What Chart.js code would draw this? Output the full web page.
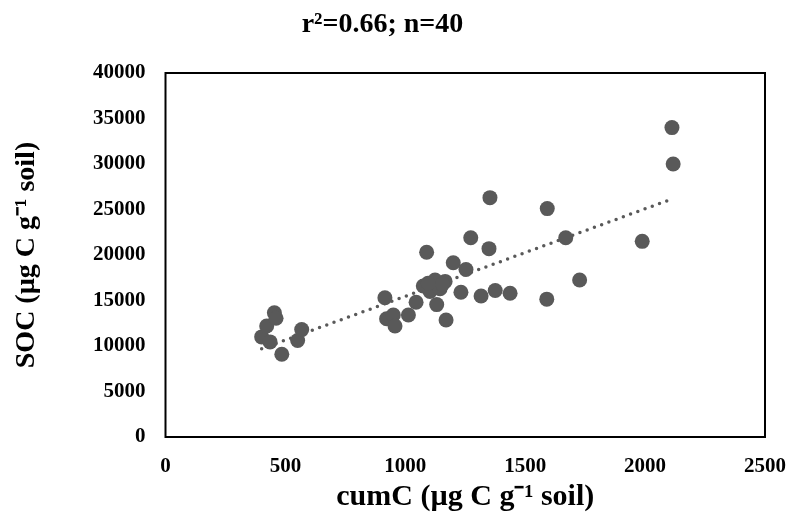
<!DOCTYPE html>
<html>
<head>
<meta charset="utf-8">
<title>SOC vs cumC</title>
<script src="https://cdn.jsdelivr.net/npm/chart.js@4.4.1/dist/chart.umd.min.js"></script>
<style>
    html, body { margin: 0; padding: 0; background: #ffffff; }
    #wrap { width: 791px; height: 521px; }
</style>
</head>
<body>
<div id="wrap"><canvas id="socChart" width="791" height="521"></canvas></div>
<script>
// cumulative C (x) and SOC (y) for each sample
const cumC = [
    401, 422, 436, 454, 461, 485, 551, 568,
    915, 922, 950, 957, 1013, 1045, 1075, 1089, 1103, 1124, 1131, 1145,
    1166, 1170, 1200, 1232, 1253, 1273, 1316, 1349, 1353, 1375, 1437,
    1590, 1592, 1669, 1727, 1988, 2112, 2117, 1095, 1155
];
const soc = [
    11000, 12200, 10450, 13650, 13050, 9100, 10600, 11800,
    15300, 13000, 13400, 12200, 13400, 14800, 16600, 20300, 16000, 17250, 14550, 16300,
    17100, 12850, 19150, 15900, 18400, 21900, 15500, 20700, 26300, 16100, 15800,
    15150, 25100, 21900, 17250, 21500, 34000, 30000, 16900, 16800
];

// end points of the dotted linear trend line
const trendX = [401, 2117];
const trendY = [9700, 26200];

const xTicks = [0, 500, 1000, 1500, 2000, 2500];
const yTicks = [0, 5000, 10000, 15000, 20000, 25000, 30000, 35000, 40000];

const FONT = '"Liberation Serif", "Times New Roman", serif';
const MARK = '#595959';

/**
 * Draws the black frame round the plot area
 */
const framePlugin = {
    id: 'frame',
    afterDraw(chart) {
        const { ctx, chartArea: a } = chart;
        ctx.save();
        ctx.strokeStyle = '#000000';
        ctx.lineWidth = 2;
        ctx.strokeRect(a.left, a.top, a.right - a.left, a.bottom - a.top);
        ctx.restore();
    }
};

const points = cumC.map((x, i) => ({ x: x, y: soc[i] }));
const trend = trendX.map((x, i) => ({ x: x, y: trendY[i] }));

new Chart(document.getElementById('socChart'), {
    type: 'scatter',
    data: {
        datasets: [
            {
                label: 'SOC',
                data: points,
                backgroundColor: MARK,
                borderColor: MARK,
                borderWidth: 0,
                pointRadius: 7.5,
                pointHoverRadius: 7.5
            },
            {
                label: 'Linear trend',
                data: trend,
                showLine: true,
                borderColor: MARK,
                borderWidth: 3.5,
                borderDash: [0, 7.7],
                borderCapStyle: 'round',
                pointRadius: 0,
                fill: false
            }
        ]
    },
    options: {
        responsive: false,
        animation: false,
        devicePixelRatio: 1,
        layout: { padding: { left: 0, right: 26, top: 0, bottom: 0 } },
        plugins: {
            legend: { display: false },
            tooltip: { enabled: false },
            title: {
                display: true,
                text: 'r²=0.66; n=40',
                color: '#000000',
                font: { family: FONT, size: 28, weight: 'bold', lineHeight: 1.2 },
                padding: { top: 8, bottom: 31.4 }
            }
        },
        scales: {
            x: {
                type: 'linear',
                min: 0,
                max: 2500,
                afterBuildTicks: scale => { scale.ticks = xTicks.map(v => ({ value: v })); },
                afterFit: scale => {
                    scale.height = 84;
                    // let the layout padding alone set the right edge
                    scale.paddingLeft = 0;
                    scale.paddingRight = 0;
                },
                grid: { display: false, drawTicks: false },
                border: { display: false },
                ticks: {
                    color: '#000000',
                    padding: 17,
                    callback: v => String(v),
                    font: { family: FONT, size: 21, weight: 'bold' }
                },
                title: {
                    display: true,
                    text: 'cumC (µg C g⁻¹ soil)',
                    color: '#000000',
                    font: { family: FONT, size: 30, weight: 'bold', lineHeight: 1.2 },
                    padding: { top: 0, bottom: 6 }
                }
            },
            y: {
                type: 'linear',
                min: 0,
                max: 40000,
                afterBuildTicks: scale => { scale.ticks = yTicks.map(v => ({ value: v })); },
                afterFit: scale => {
                    scale.width = 165.5;
                    scale.paddingTop = 0;
                    scale.paddingBottom = 0;
                },
                grid: { display: false, drawTicks: false },
                border: { display: false },
                ticks: {
                    color: '#000000',
                    padding: 20,
                    callback: v => String(v),
                    font: { family: FONT, size: 21, weight: 'bold' }
                },
                title: {
                    display: true,
                    text: 'SOC (µg C g⁻¹ soil)',
                    color: '#000000',
                    font: { family: FONT, size: 28, weight: 'bold', lineHeight: 1.2 },
                    padding: { top: 10, bottom: 0 }
                }
            }
        }
    },
    plugins: [framePlugin]
});
</script>
</body>
</html>
